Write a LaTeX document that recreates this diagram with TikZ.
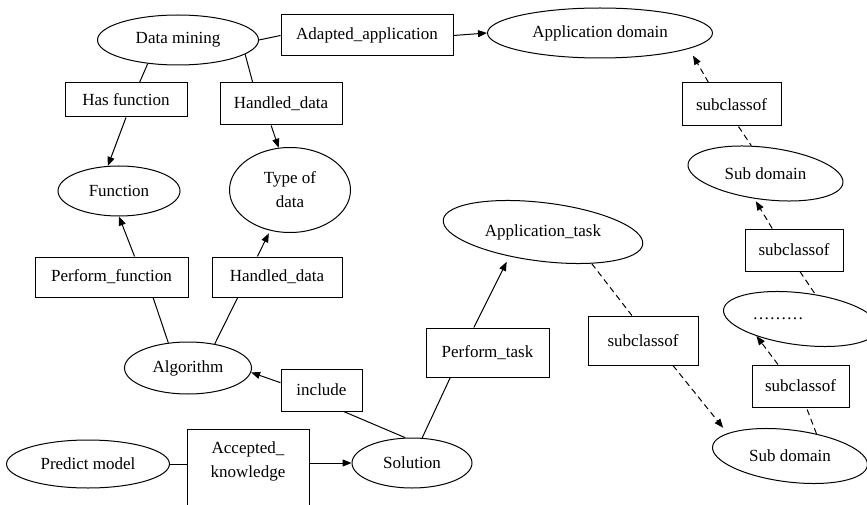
\documentclass[tikz,border=0pt]{standalone}
\usepackage{fontspec}
\setmainfont{Liberation Serif}
\usetikzlibrary{shapes.geometric,arrows.meta,calc}
\tikzset{
  ell/.style={draw, ellipse, inner sep=0pt, line width=1pt},
  bx/.style={draw, rectangle, inner sep=0pt, line width=1pt},
  con/.style={line width=1pt},
  arr/.style={con, -{Triangle[length=9pt,width=7pt]}},
  dsh/.style={con, dash pattern=on 6pt off 4pt},
}
\begin{document}
\begin{tikzpicture}[x=1pt,y=-1pt,font=\fontsize{17}{24}\selectfont]
\clip (0,0) rectangle (867,505);
\fill[white] (0,0) rectangle (867,505);
% ellipses
\node[ell, minimum width=161, minimum height=50] (dm) at (178,40) {Data mining};
\node[ell, minimum width=225, minimum height=50] (appd) at (600,33) {Application domain};
\node[ell, minimum width=156, minimum height=52, rotate=-7] (sd1) at (765.5,173.5) {\rotatebox{7}{Sub domain}};
\node[ell, minimum width=122, minimum height=50] (fn) at (119,191) {Function};
\node[ell, minimum width=121, minimum height=85, align=center] (tod) at (290,190) {Type of\\data};
\node[ell, minimum width=201, minimum height=58.5, rotate=-7] (appt) at (543,232) {\rotatebox{7}{Application\_task}};
\node[ell, minimum width=156, minimum height=52, rotate=-7] (dots) at (801,319) {\rotatebox{7}{………\hspace{46pt}}};
\node[ell, minimum width=127, minimum height=52] (alg) at (188,368) {Algorithm};
\node[ell, minimum width=120, minimum height=50] (sol) at (412,463) {Solution};
\node[ell, minimum width=163, minimum height=48] (pm) at (88,464) {Predict model};
\node[ell, minimum width=156, minimum height=52, rotate=-7] (sd2) at (790,456) {\rotatebox{7}{Sub domain}};
% boxes
\node[bx, minimum width=172, minimum height=41] (aa) at (367,35.5) {Adapted\_application};
\node[bx, minimum width=99, minimum height=43] (sc1) at (731.5,104.5) {subclassof};
\node[bx, minimum width=122, minimum height=34] (hf) at (126,100) {Has function};
\node[bx, minimum width=122, minimum height=42] (hd1) at (281,104) {Handled\_data};
\node[bx, minimum width=153, minimum height=40] (pf) at (111.5,277) {Perform\_function};
\node[bx, minimum width=130, minimum height=40] (hd2) at (277,277) {Handled\_data};
\node[bx, minimum width=98, minimum height=42] (sc4) at (794,250) {subclassof};
\node[bx, minimum width=81, minimum height=42] (inc) at (321.5,390) {include};
\node[bx, minimum width=123, minimum height=49] (pt) at (487.5,352.5) {Perform\_task};
\node[bx, minimum width=110, minimum height=49] (sc2) at (643,340.5) {subclassof};
\node[bx, minimum width=97, minimum height=42] (sc3) at (800.5,386) {subclassof};
\node[bx, minimum width=122, minimum height=86, align=center] (ak) at (248,472) {Accepted\_\\knowledge\\\mbox{}};
% connectors
\draw[con] (dm.east) -- (aa.west);
\draw[arr] (aa.east) -- (appd.west);
\draw[con] (dm.-142) -- ($(hf.north west)!0.61!(hf.north east)$);
\draw[arr] (hf.south) -- (fn.114);
\draw[con] (dm.-12) -- ($(hd1.north west)!0.27!(hd1.north east)$);
\draw[arr] ($(hd1.south west)!0.42!(hd1.south east)$) -- (tod.105);
\draw[arr] ($(pf.north west)!0.65!(pf.north east)$) -- (fn.south);
\draw[arr, shorten >=3pt] ($(hd2.north west)!0.35!(hd2.north east)$) -- (tod.-116);
\draw[con] ($(pf.south west)!0.77!(pf.south east)$) -- (alg.128);
\draw[con] ($(hd2.south west)!0.2!(hd2.south east)$) -- (alg.42);
\draw[arr] ($(inc.north west)!0.33!(inc.south west)$) -- (alg.-4);
\draw[con] ($(inc.south west)!0.77!(inc.south east)$) -- (sol.105);
\draw[con] (pm.east) -- (pm.east -| ak.west);
\draw[arr] (ak.east |- sol.west) -- (sol.west);
\draw[con] (sol.68) -- ($(pt.south west)!0.2!(pt.south east)$);
\draw[arr, shorten >=6pt] ($(pt.north west)!0.39!(pt.north east)$) -- (appt.-137);
\draw[dsh] (appt.-26) -- ($(sc2.north west)!0.4!(sc2.north east)$);
\draw[arr, dsh, shorten >=7pt] ($(sc2.south west)!0.77!(sc2.south east)$) -- (sd2.167);
\draw[dsh] (sd2.47) -- ($(sc3.south west)!0.56!(sc3.south east)$);
\draw[arr, dsh] ($(sc3.north west)!0.27!(sc3.north east)$) -- (dots.-152);
\draw[dsh] ($(sc4.south west)!0.56!(sc4.south east)$) -- (dots.67);
\draw[arr, dsh, shorten >=3pt] ($(sc4.north west)!0.28!(sc4.north east)$) -- (sd1.-107);
\draw[dsh] ($(sc1.south west)!0.57!(sc1.south east)$) -- (sd1.124);
\draw[arr, dsh, shorten >=8pt] ($(sc1.north west)!0.27!(sc1.north east)$) -- (appd.-10);
\end{tikzpicture}
\end{document}
